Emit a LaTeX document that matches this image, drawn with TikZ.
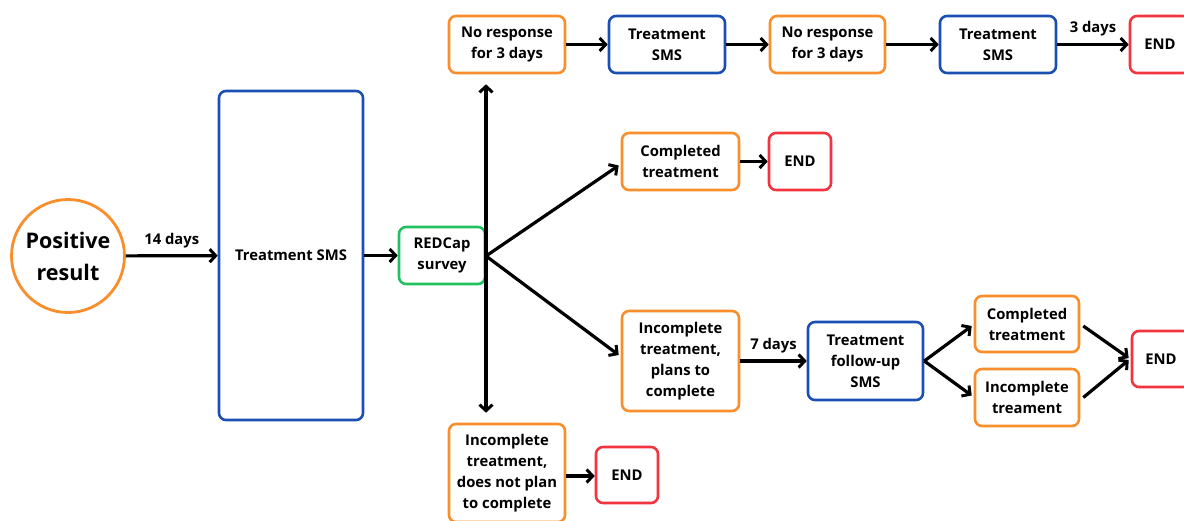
\documentclass[tikz,border=0pt]{standalone}
\usepackage{fontspec}
\setmainfont{Open Sans}
\usetikzlibrary{arrows.meta,calc}
\definecolor{corange}{HTML}{F98E2B}
\definecolor{cblue}{HTML}{1B4FB2}
\definecolor{cgreen}{HTML}{22C160}
\definecolor{cred}{HTML}{F2343F}
\tikzset{
  box/.style={draw, line width=2.6pt, rounded corners=7pt, align=center, inner sep=0pt,
    font=\bfseries\fontsize{14.8}{21}\selectfont, text=black},
  obox/.style={box, draw=corange},
  bbox/.style={box, draw=cblue},
  gbox/.style={box, draw=cgreen},
  rbox/.style={box, draw=cred},
  tipA/.tip={Straight Barb[length=6pt,width=13pt,line width=3pt]},
  arr/.style={line width=3.2pt, -tipA},
  darr/.style={line width=3.2pt, tipA-tipA},
  lbl/.style={font=\bfseries\fontsize{14.8}{16}\selectfont, inner sep=0pt}
}
\begin{document}
\begin{tikzpicture}[x=1pt,y=-1pt]
\clip (0,0) rectangle (1184,520);
\fill[white] (0,0) rectangle (1184,520);
% nodes
\node[draw=corange, line width=2.8pt, circle, minimum size=113pt, inner sep=0pt, align=center,
  font=\bfseries\fontsize{21.5}{32}\selectfont] (pos) at (68,256) {Positive\\result};
\node[bbox, minimum width=144pt, minimum height=329pt] (tsms) at (291,255.5) {Treatment SMS};
\node[gbox, minimum width=86pt, minimum height=57pt] (red) at (442,255.5) {REDCap\\survey};
\node[obox, minimum width=116pt, minimum height=57pt] (nr1) at (507,44.5) {No response\\for 3 days};
\node[bbox, minimum width=116pt, minimum height=57pt] (ts1) at (667,44.5) {Treatment\\SMS};
\node[obox, minimum width=115pt, minimum height=57pt] (nr2) at (827.5,44.5) {No response\\for 3 days};
\node[bbox, minimum width=116pt, minimum height=57pt] (ts2) at (998,44.5) {Treatment\\SMS};
\node[rbox, minimum width=60pt, minimum height=57pt] (end1) at (1160,44.5) {END};
\node[obox, minimum width=117pt, minimum height=57pt] (ct1) at (680.5,161.5) {Completed\\treatment};
\node[rbox, minimum width=62pt, minimum height=57pt] (end2) at (800,161.5) {END};
\node[obox, minimum width=117pt, minimum height=100pt] (ict) at (680.5,361) {Incomplete\\treatment,\\plans to\\complete};
\node[bbox, minimum width=115pt, minimum height=78pt] (fu) at (865.5,361) {Treatment\\follow-up\\SMS};
\node[obox, minimum width=104pt, minimum height=56pt] (ct2) at (1027,324) {Completed\\treatment};
\node[obox, minimum width=104pt, minimum height=57pt] (ic2) at (1027,397.5) {Incomplete\\treament};
\node[rbox, minimum width=58pt, minimum height=56pt] (end3) at (1161,359) {END};
\node[obox, minimum width=116pt, minimum height=98pt] (icn) at (507,473) {Incomplete\\treatment,\\does not plan\\to complete};
\node[rbox, minimum width=62pt, minimum height=56pt] (end4) at (627,475) {END};
\coordinate (split) at (486,256);
\coordinate (vt) at ($(split |- nr1.south)+(0,10)$);
\coordinate (vb) at ($(split |- icn.north)+(0,-10)$);
% connectors
\draw[arr] (pos) -- node[lbl, above=6pt] {14 days} (tsms);
\draw[arr] (tsms) -- (red);
\draw[darr] (vt) -- (vb);
\draw[arr] (split) -- ($(ct1.west)+(-2,4)$);
\draw[arr] (split) -- ($(ict.west)+(-2,-6)$);
\draw[arr] (nr1) -- (ts1);
\draw[arr] (ts1) -- (nr2);
\draw[arr] (nr2) -- (ts2);
\draw[arr] (ts2) -- node[lbl, above=7pt] {3 days} (end1);
\draw[arr] (ct1) -- (end2);
\draw[arr] (ict.east |- fu.west) -- node[lbl, above=6pt] {7 days} (fu);
\draw[arr] (fu.east) -- ($(ct2.west)+(-2,2)$);
\draw[arr] (fu.east) -- ($(ic2.west)+(-2,-2)$);
\draw[arr] ($(ct2.east)+(3,2)$) -- ($(end3.west)+(-2,-1)$);
\draw[arr] ($(ic2.east)+(3,0)$) -- ($(end3.west)+(-2,1)$);
\draw[arr] ($(icn.east)+(0,3)$) -- ($(end4.west)+(0,1)$);
\end{tikzpicture}
\end{document}
